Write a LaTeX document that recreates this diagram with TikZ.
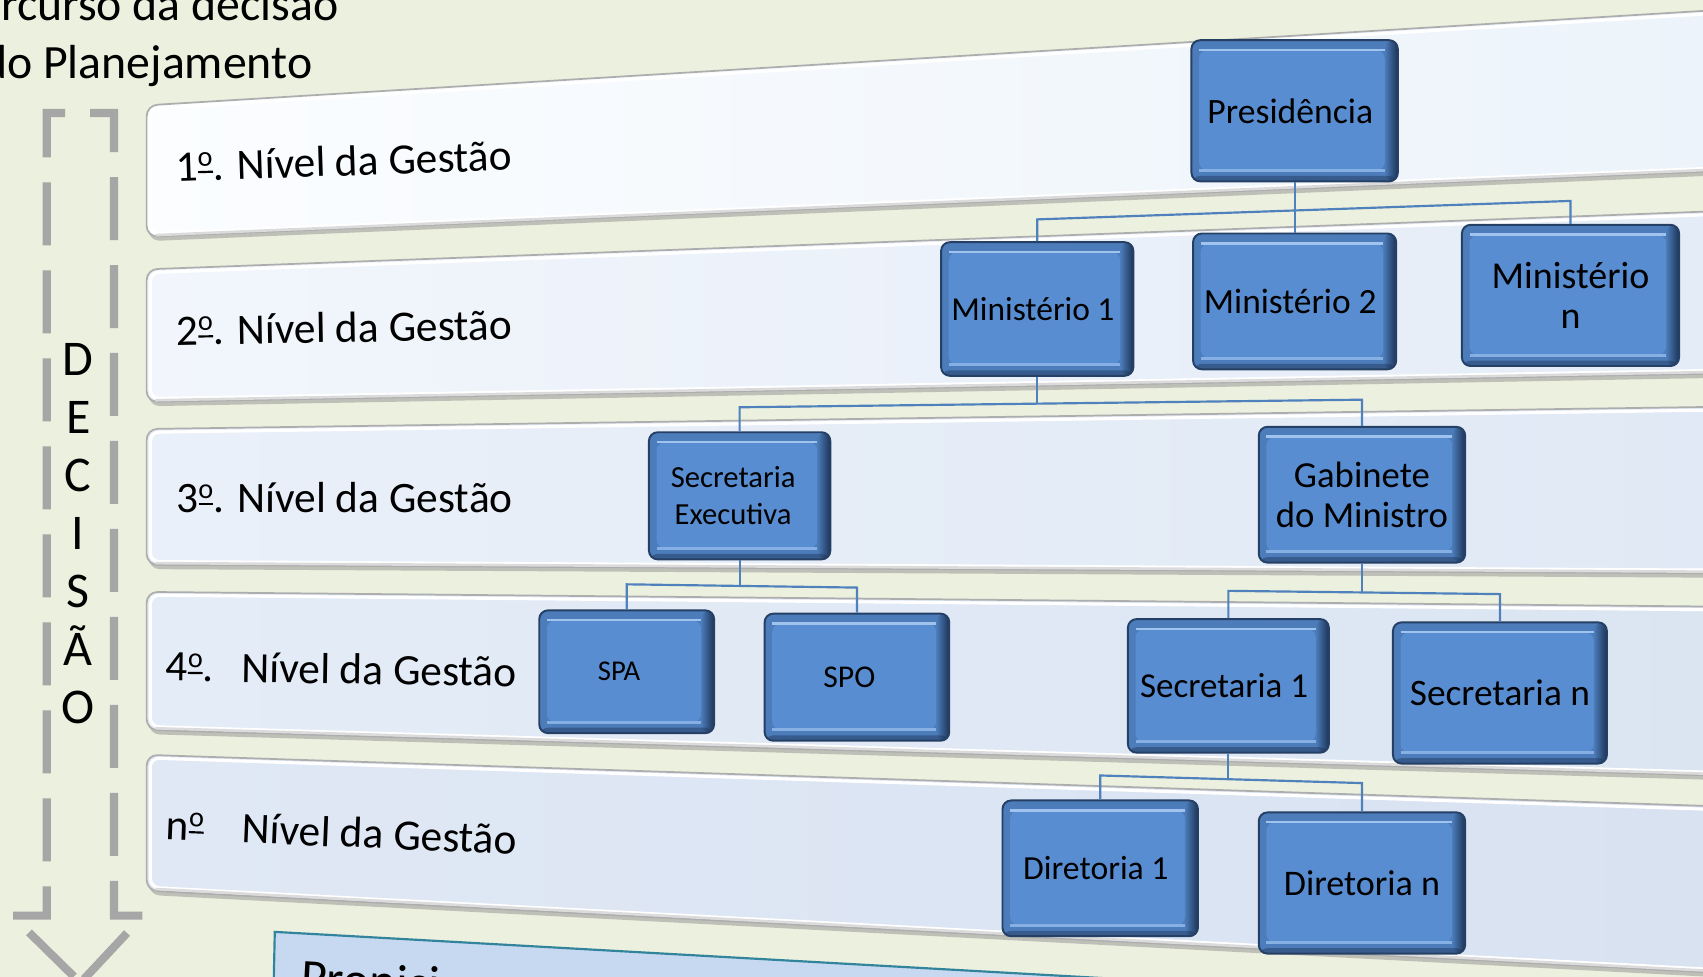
\documentclass[tikz,border=0pt]{standalone}
\usepackage{fontspec}
\setmainfont{Carlito}
\usetikzlibrary{calc}
\definecolor{bg}{RGB}{236,240,222}
\definecolor{arrowgray}{RGB}{166,166,166}
\definecolor{boxedge}{RGB}{37,64,100}
\definecolor{boxrim}{RGB}{76,124,186}
\definecolor{boxface}{RGB}{89,141,209}
\definecolor{boxdark}{RGB}{28,52,86}
\definecolor{boxlight}{RGB}{160,196,238}
\definecolor{boxlighttwo}{RGB}{134,176,228}
\definecolor{conncol}{RGB}{79,129,189}
\definecolor{propfill}{RGB}{198,217,241}
\definecolor{propedge}{RGB}{49,132,155}
\definecolor{bandAl}{RGB}{251,253,255}\definecolor{bandAr}{RGB}{236,243,250}
\definecolor{bandBl}{RGB}{242,246,252}\definecolor{bandBr}{RGB}{228,236,247}
\definecolor{bandCl}{RGB}{234,240,249}\definecolor{bandCr}{RGB}{224,233,245}
\definecolor{bandDl}{RGB}{228,236,247}\definecolor{bandDr}{RGB}{219,229,242}
\definecolor{bandEl}{RGB}{224,232,245}\definecolor{bandEr}{RGB}{216,226,241}
\newcommand\ordm{\raisebox{0.33em}{\fontsize{13}{13}\selectfont o}\kern-0.34em\rule[0.17em]{0.34em}{0.05em}}
\newcommand\lvlband[6]{%
  \fill[black!40, opacity=.55, rounded corners=5pt] (137,{#1+2}) -- (1600,{#2+2}) -- (1600,{#3+4}) -- (137,{#4+4}) -- cycle;
  \path[rounded corners=5pt, left color=#5, right color=#6, draw=black!32, line width=0.8pt] (135,#1) -- (1600,#2) -- (1600,#3) -- (135,#4) -- cycle;
  \draw[white, line width=1.4pt, rounded corners=4pt] (1600,{#2+3}) -- (138.5,{#1+3}) -- (138.5,{#4-3}) -- (1600,{#3-3});
  \draw[black!14, line width=1.2pt] (143,{#4-1.5}) -- (1600,{#3-1.5});
}
\tikzset{
  orgbox/.style={rectangle, rounded corners=4pt, draw=boxedge, line width=0.9pt, fill=boxrim,
    inner sep=0pt, align=center, text=black,
    path picture={
      \fill[boxface] ([shift={(7,9)}]path picture bounding box.north west) rectangle ([shift={(-12,-10)}]path picture bounding box.south east);
      \shade[left color=boxrim, right color=boxdark] ([shift={(-12,0)}]path picture bounding box.north east) rectangle (path picture bounding box.south east);
      \fill[boxdark, opacity=.45] ([shift={(0,-5)}]path picture bounding box.south west) rectangle (path picture bounding box.south east);
      \draw[boxlight, line width=1.2pt] ([shift={(7,9)}]path picture bounding box.north west) -- ([shift={(-12,9)}]path picture bounding box.north east);
      \draw[boxlighttwo, line width=1.4pt] ([shift={(7,-10)}]path picture bounding box.south west) -- ([shift={(-12,-10)}]path picture bounding box.south east);
    }},
  conn/.style={draw=conncol, line width=1pt},
  lvl/.style={anchor=base west, inner sep=0pt, font=\fontsize{20}{24}\selectfont},
  ttl/.style={anchor=base east, inner sep=0pt, font=\fontsize{22}{26}\selectfont},
  decl/.style={anchor=base, inner sep=0pt, font=\fontsize{23}{27}\selectfont},
  decarrow/.style={draw=arrowgray, line width=3.75pt, dash pattern=on 29pt off 11.5pt, line join=miter, line cap=butt}
}
\begin{document}
\begin{tikzpicture}[x=0.5pt,y=-0.5pt]
\useasboundingbox (0,0) rectangle (1568,899);
\clip (0,0) rectangle (1568,899);
\fill[bg] (-5,-5) rectangle (1575,905);

% level bands
\lvlband{97}{8.1}{156.8}{218}{bandAl}{bandAr}
\lvlband{248}{193.7}{343.6}{370}{bandBl}{bandBr}
\lvlband{395}{374.3}{528}{520}{bandCl}{bandCr}
\lvlband{545}{558.7}{714.7}{672}{bandDl}{bandDr}
\lvlband{695}{743}{896.7}{820}{bandEl}{bandEr}

% title
\node[ttl] (t1) at (312,19) {Percurso da decisão};
\node[ttl] (t2) at (288,72) {do Planejamento};

% decision arrow
\draw[decarrow] (60,104) -- (43,104) -- (43,843) -- (11,843) -- (74,905);
\draw[decarrow] (83,104) -- (105,104) -- (105,843) -- (132,843) -- (74,905);
\foreach \ch [count=\i from 0] in {D,E,C,I,S,Ã,O}
  \node[decl] (dec\i) at (72,{346+53.3*\i}) {\ch};

% level labels
\node[lvl, rotate=1.9] (l1) at (162,167) {1\ordm. Nível da Gestão};
\node[lvl, rotate=1.0] (l2) at (162,318) {2\ordm. Nível da Gestão};
\node[lvl] (l3) at (162,472) {3\ordm. Nível da Gestão};
\node[lvl, rotate=-0.9] (l4) at (152,627) {4\ordm.\hspace{0.64em}Nível da Gestão};
\node[lvl, rotate=-2.4] (l5) at (152,773) {n\ordm\hspace{0.875em}Nível da Gestão};

% bottom box
\path[fill=propfill, draw=propedge, line width=1pt] (253,858) -- (1650,936) -- (1650,1000) -- (250,1000) -- cycle;
\node[anchor=base west, inner sep=0pt, rotate=-3.2, font=\fontsize{23}{28}\selectfont] (prop) at (276,915) {Propiciar};

% org boxes
\node[orgbox, minimum width=95pt, minimum height=65pt, font=\fontsize{16.4}{19.5}\selectfont] (pres) at (1192,102) {Presidência\hspace*{4pt}};
\node[orgbox, minimum width=88.5pt, minimum height=61.5pt, font=\fontsize{15.4}{18.5}\selectfont] (m1) at (955,284.5) {Ministério 1\hspace*{4pt}};
\node[orgbox, minimum width=93.5pt, minimum height=62.5pt, font=\fontsize{16.3}{19.5}\selectfont] (m2) at (1192,277.5) {Ministério 2\hspace*{4pt}};
\node[orgbox, minimum width=100pt, minimum height=65pt, font=\fontsize{17.5}{18.5}\selectfont] (mn) at (1446,272) {Ministério\\n};
\node[orgbox, minimum width=83.5pt, minimum height=58.5pt, font=\fontsize{14.1}{17}\selectfont] (se) at (681,456.5) {Secretaria\hspace*{6pt}\\Executiva\hspace*{6pt}};
\node[orgbox, minimum width=95pt, minimum height=62.5pt, font=\fontsize{16.9}{18.5}\selectfont] (gab) at (1254,455.5) {Gabinete\\do Ministro};
\node[orgbox, minimum width=80.5pt, minimum height=56.5pt, font=\fontsize{13.2}{16}\selectfont] (spa) at (577,618.5) {SPA\hspace*{7pt}};
\node[orgbox, minimum width=85pt, minimum height=58.5pt, font=\fontsize{14.6}{17}\selectfont] (spo) at (789,623.5) {SPO\hspace*{7pt}};
\node[orgbox, minimum width=92.5pt, minimum height=61.5pt, font=\fontsize{16.1}{19}\selectfont] (s1) at (1131,631.5) {Secretaria 1\hspace*{4pt}};
\node[orgbox, minimum width=98.5pt, minimum height=65pt, font=\fontsize{17.2}{20}\selectfont] (sn) at (1381,638) {Secretaria n};
\node[orgbox, minimum width=90pt, minimum height=62.5pt, font=\fontsize{15.5}{18.5}\selectfont] (d1) at (1013,799.5) {Diretoria 1\hspace*{4pt}};
\node[orgbox, minimum width=95pt, minimum height=65pt, font=\fontsize{16.6}{19.5}\selectfont] (dn) at (1254,813) {Diretoria n};

% connector joints
\coordinate (b1l) at (955,202);
\coordinate (b1r) at (1446,185);
\coordinate (b2l) at (681,375);
\coordinate (b2r) at (1254,368);
\coordinate (b2m) at (955,371.7);
\coordinate (b3l) at (577,538);
\coordinate (b3r) at (789,541);
\coordinate (b3m) at (681,539.5);
\coordinate (b4l) at (1131,544);
\coordinate (b4r) at (1381,547);
\coordinate (b4m) at (1254,545.5);
\coordinate (b5l) at (1013,714);
\coordinate (b5r) at (1254,721);
\coordinate (b5m) at (1131,717.4);

\draw[conn] (pres.south) -- (m2.north);
\draw[conn] (m1.north) -- (b1l) -- (b1r) -- (mn.north);
\draw[conn] (m1.south) -- (b2m);
\draw[conn] (se.north) -- (b2l) -- (b2r) -- (gab.north);
\draw[conn] (se.south) -- (b3m);
\draw[conn] (spa.north) -- (b3l) -- (b3r) -- (spo.north);
\draw[conn] (gab.south) -- (b4m);
\draw[conn] (s1.north) -- (b4l) -- (b4r) -- (sn.north);
\draw[conn] (s1.south) -- (b5m);
\draw[conn] (d1.north) -- (b5l) -- (b5r) -- (dn.north);
\end{tikzpicture}
\end{document}
